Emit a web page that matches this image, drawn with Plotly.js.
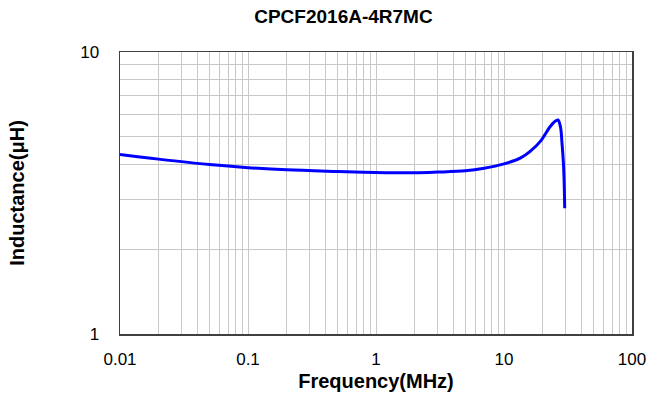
<!DOCTYPE html>
<html>
<head>
<meta charset="utf-8">
<script src="https://cdn.plot.ly/plotly-3.0.1.min.js"></script>
<style>html,body{margin:0;padding:0;background:#fff;}#chart{width:648px;height:401px;}</style>
</head>
<body>
<div id="chart"></div>
<script>
const chartTitle = "CPCF2016A-4R7MC";
const xTitle = "Frequency(MHz)";
const yTitle = "Inductance(μH)";

const freqMHz = [0.01, 0.02, 0.05, 0.1, 0.2, 0.5, 1, 2, 3, 5, 7, 10, 13.5, 16, 19.3, 22.9, 25.4, 26.4, 27.6, 28.4, 29.3, 29.8];
const inductanceUH = [4.33, 4.17, 3.99, 3.89, 3.82, 3.77, 3.74, 3.73, 3.75, 3.79, 3.87, 4.01, 4.21, 4.44, 4.83, 5.43, 5.70, 5.74, 5.43, 4.74, 3.81, 2.79];

const xTickVals = [0.01,0.02,0.03,0.04,0.05,0.06,0.07,0.08,0.09,
                   0.1,0.2,0.3,0.4,0.5,0.6,0.7,0.8,0.9,
                   1,2,3,4,5,6,7,8,9,
                   10,20,30,40,50,60,70,80,90,100];
const xMajorLabels = {"0.01":"0.01","0.1":"0.1","1":"1","10":"10","100":"100"};
const yTickVals = [1,2,3,4,5,6,7,8,9,10];
const yMajorLabels = {"1":"1","10":"10"};

const xTickText = xTickVals.map(v => xMajorLabels[String(v)] || "");
const yTickText = yTickVals.map(v => yMajorLabels[String(v)] || "");

const font = "Liberation Sans, Arial, sans-serif";

const trace = {
  x: freqMHz,
  y: inductanceUH,
  type: "scatter",
  mode: "lines",
  line: {color: "#0000ff", width: 3, shape: "spline", smoothing: 1},
  hoverinfo: "skip"
};

const layout = {
  width: 648, height: 401,
  margin: {l: 120, r: 16, t: 52, b: 67},
  paper_bgcolor: "#ffffff",
  plot_bgcolor: "#ffffff",
  showlegend: false,
  title: {text: "<b>" + chartTitle + "</b>", x: 0.53, xanchor: "center", y: 0.96, yanchor: "middle",
          font: {family: font, size: 19, color: "#000"}},
  xaxis: {
    type: "log", range: [-2, 2],
    tickvals: xTickVals, ticktext: xTickText,
    showgrid: true, gridcolor: "#c8c8c8", gridwidth: 1,
    showline: true, linecolor: "#404040", linewidth: 1.5, mirror: true,
    ticks: "", ticklabelstandoff: 9,
    tickfont: {family: font, size: 17, color: "#000"},
    zeroline: false,
    title: {text: "<b>" + xTitle + "</b>", font: {family: font, size: 20, color: "#000"}, standoff: 6}
  },
  yaxis: {
    type: "log", range: [0, 1],
    tickvals: yTickVals, ticktext: yTickText,
    showgrid: true, gridcolor: "#c8c8c8", gridwidth: 1,
    showline: true, linecolor: "#404040", linewidth: 1.5, mirror: true,
    ticks: "", ticklabelstandoff: 16,
    tickfont: {family: font, size: 17, color: "#000"},
    zeroline: false,
    title: {text: "<b>" + yTitle + "</b>", font: {family: font, size: 20, color: "#000"}, standoff: 50}
  }
};

Plotly.newPlot("chart", [trace], layout, {staticPlot: true, displayModeBar: false});
</script>
</body>
</html>
